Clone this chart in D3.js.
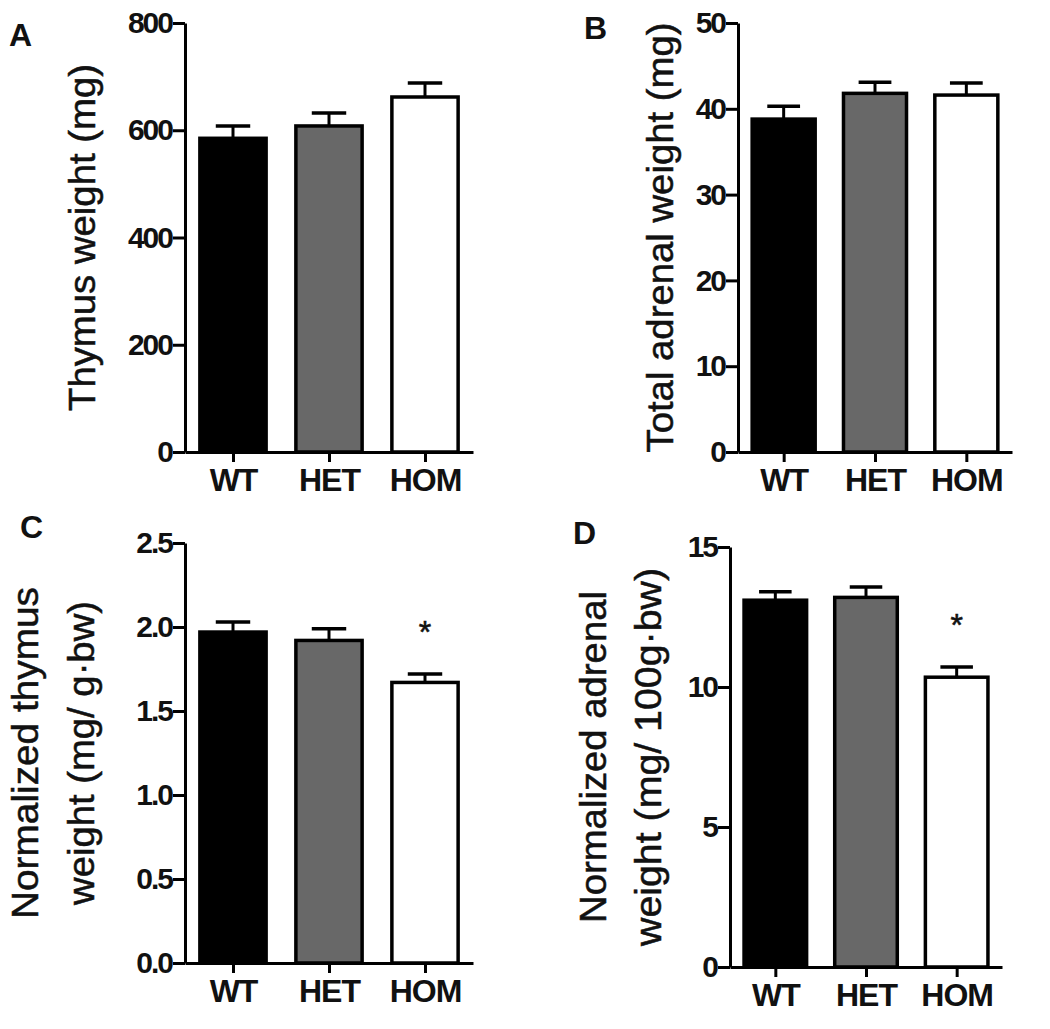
<!DOCTYPE html>
<html>
<head>
<meta charset="utf-8">
<script src="https://cdn.jsdelivr.net/npm/d3@7"></script>
<style>
  body { margin: 0; background: #fff; }
  svg { display: block; font-family: Arial, "Liberation Sans", sans-serif; }
</style>
</head>
<body>
<svg id="canvas" width="1050" height="1029"></svg>
<script>
const categories = ["WT", "HET", "HOM"];
const barFills = ["#000000", "#686868", "#ffffff"];

const thymusMeans = [585, 608, 662];
const thymusSem = [23, 24, 26];
const thymusTicks = [0, 200, 400, 600, 800];

const adrenalMeans = [38.8, 41.8, 41.6];
const adrenalSem = [1.5, 1.3, 1.4];
const adrenalTicks = [0, 10, 20, 30, 40, 50];

const normThymusMeans = [1.97, 1.92, 1.67];
const normThymusSem = [0.06, 0.07, 0.05];
const normThymusTicks = [0, 0.5, 1.0, 1.5, 2.0, 2.5];

const normAdrenalMeans = [13.1, 13.2, 10.35];
const normAdrenalSem = [0.3, 0.37, 0.36];
const normAdrenalTicks = [0, 5, 10, 15];

const noStars = ["", "", ""];
const homStars = ["", "", "*"];

let svg = d3.select("#canvas");

// layout of the four panels
let panels = [
  { letter: "A", lx: 9, ly: 46, means: thymusMeans, sem: thymusSem, ticks: thymusTicks, fmt: d3.format("d"), stars: noStars,
    x0: 185, x1: 473, yTop: 23, yBot: 452,
    labels: [{ text: "Thymus weight (mg)", x: 95, len: 347 }] },
  { letter: "B", lx: 584, ly: 39, means: adrenalMeans, sem: adrenalSem, ticks: adrenalTicks, fmt: d3.format("d"), stars: noStars,
    x0: 738, x1: 1012, yTop: 23, yBot: 452,
    labels: [{ text: "Total adrenal weight (mg)", x: 673, len: 430 }] },
  { letter: "C", lx: 20, ly: 538, means: normThymusMeans, sem: normThymusSem, ticks: normThymusTicks, fmt: d3.format(".1f"), stars: homStars,
    x0: 185, x1: 473, yTop: 543, yBot: 963,
    labels: [{ text: "Normalized thymus", x: 38, len: 332 },
             { text: "weight (mg/ g\u00b7bw)", x: 94, len: 304 }] },
  { letter: "D", lx: 573, ly: 544, means: normAdrenalMeans, sem: normAdrenalSem, ticks: normAdrenalTicks, fmt: d3.format("d"), stars: homStars,
    x0: 730, x1: 1002, yTop: 547, yBot: 967,
    labels: [{ text: "Normalized adrenal", x: 606, len: 332 },
             { text: "weight (mg/ 100g\u00b7bw)", x: 661, len: 378 }] }
];

let drawPanel = (p) => {
  let g = svg.append("g");
  let x = d3.scalePoint().domain(categories).range([p.x0, p.x1]).padding(0.5);
  let y = d3.scaleLinear().domain([0, d3.max(p.ticks)]).range([p.yBot, p.yTop]);
  let barW = x.step() * 0.69;
  let capW = barW * 0.52;

  let rows = categories.map((c, i) => ({ cat: c, mean: p.means[i], sem: p.sem[i], fill: barFills[i], star: p.stars[i] }));

  // upper error bars, drawn behind the bars
  g.selectAll(".stem").data(rows).enter().append("line")
    .attr("x1", d => x(d.cat)).attr("x2", d => x(d.cat))
    .attr("y1", d => y(d.mean)).attr("y2", d => y(d.mean + d.sem))
    .attr("stroke", "#000").attr("stroke-width", 3);
  g.selectAll(".cap").data(rows).enter().append("line")
    .attr("x1", d => x(d.cat) - capW / 2).attr("x2", d => x(d.cat) + capW / 2)
    .attr("y1", d => y(d.mean + d.sem)).attr("y2", d => y(d.mean + d.sem))
    .attr("stroke", "#000").attr("stroke-width", 3.5);

  g.selectAll("rect").data(rows).enter().append("rect")
    .attr("x", d => x(d.cat) - barW / 2)
    .attr("y", d => y(d.mean))
    .attr("width", barW)
    .attr("height", d => y(0) - y(d.mean))
    .attr("fill", d => d.fill)
    .attr("stroke", "#000")
    .attr("stroke-width", 3.5);

  g.selectAll(".star").data(rows.filter(d => d.star)).enter().append("text")
    .text(d => d.star)
    .attr("x", d => x(d.cat))
    .attr("y", d => y(d.mean + d.sem) - 31)
    .attr("text-anchor", "middle")
    .attr("font-size", "32px")
    .attr("fill", "#111")
    .attr("stroke", "#111").attr("stroke-width", 0.6);

  let yAxis = g.append("g")
    .attr("transform", `translate(${p.x0},0)`)
    .call(d3.axisLeft(y).tickValues(p.ticks).tickFormat(p.fmt).tickSize(12).tickSizeOuter(0).tickPadding(1));
  yAxis.selectAll("line").attr("stroke-width", 3);
  yAxis.select(".domain").attr("stroke-width", 3);
  yAxis.selectAll("text")
    .attr("font-size", "30px").attr("font-weight", "bold").attr("fill", "#111")
    .attr("letter-spacing", "-2px");

  let xAxis = g.append("g")
    .attr("transform", `translate(0,${p.yBot})`)
    .call(d3.axisBottom(x).tickSize(10).tickSizeOuter(0).tickPadding(6));
  xAxis.selectAll("line").attr("stroke-width", 3);
  xAxis.select(".domain").attr("stroke-width", 3);
  xAxis.selectAll("text")
    .attr("font-size", "32px").attr("font-weight", "bold").attr("fill", "#111")
    .attr("letter-spacing", "-1px");

  let yMid = (p.yTop + p.yBot) / 2;
  p.labels.forEach((l) => {
    g.append("text")
      .text(l.text)
      .attr("transform", `translate(${l.x},${yMid}) rotate(-90)`)
      .attr("text-anchor", "middle")
      .attr("font-size", "36px")
      .attr("fill", "#111")
      .attr("stroke", "#111").attr("stroke-width", 0.5)
      .attr("textLength", l.len)
      .attr("lengthAdjust", "spacingAndGlyphs");
  });

  g.append("text")
    .text(p.letter)
    .attr("x", p.lx).attr("y", p.ly)
    .attr("font-size", "32px").attr("font-weight", "bold").attr("fill", "#111");
};

panels.forEach(drawPanel);
</script>
</body>
</html>
